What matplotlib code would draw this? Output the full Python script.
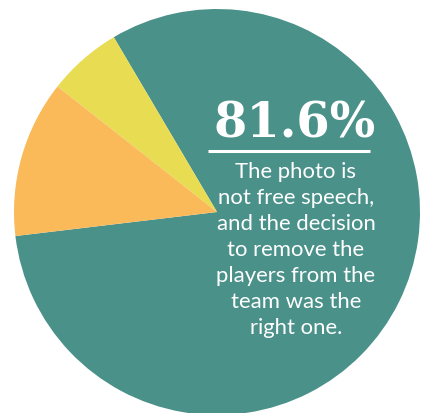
import matplotlib.pyplot as plt
from matplotlib.font_manager import fontManager

# survey shares, biggest answer first
labels = ['Not free speech, right decision', 'Other', 'Free speech']
shares = [81.6, 5.9, 12.5]
colors = ['#4A9189', '#E8DC53', '#FBBA5A']

headline = '81.6%'
caption = ['The photo is', 'not free speech,', 'and the decision',
           'to remove the', 'players from the', 'team was the', 'right one.']

W, H = 427, 413
fig = plt.figure(figsize=(W / 100, H / 100), dpi=100)
ax = fig.add_axes([0, 0, 1, 1])

ax.pie(shares, colors=colors, startangle=186.8, counterclock=True,
       center=(217, H - 212), radius=203, frame=True,
       wedgeprops=dict(linewidth=0))
ax.set_xlim(0, W)
ax.set_ylim(0, H)
ax.set_aspect('equal')
ax.axis('off')

names = {f.name for f in fontManager.ttflist}
body_font = next((f for f in ['Liberation Sans Narrow', 'Lato', 'Roboto']
                  if f in names), 'DejaVu Sans')

ax.text(295, H - 124, headline, color='white', fontsize=34.5, fontweight='bold',
        family='DejaVu Serif', ha='center', va='center')
ax.plot([208, 370], [H - 151, H - 151], color='white', lw=2.2, solid_capstyle='butt')

# size the caption so the widest line spans about 160 px
renderer = fig.canvas.get_renderer()
probe = ax.text(0, 0, 'and the decision', fontsize=16, family=body_font)
width = probe.get_window_extent(renderer).width
probe.remove()
body_size = 16 * 160 / width

for i, line in enumerate(caption):
    ax.text(296, H - (172 + i * 26), line, color='white', fontsize=body_size,
            family=body_font, ha='center', va='center')

fig.savefig('out.png', dpi=100)
